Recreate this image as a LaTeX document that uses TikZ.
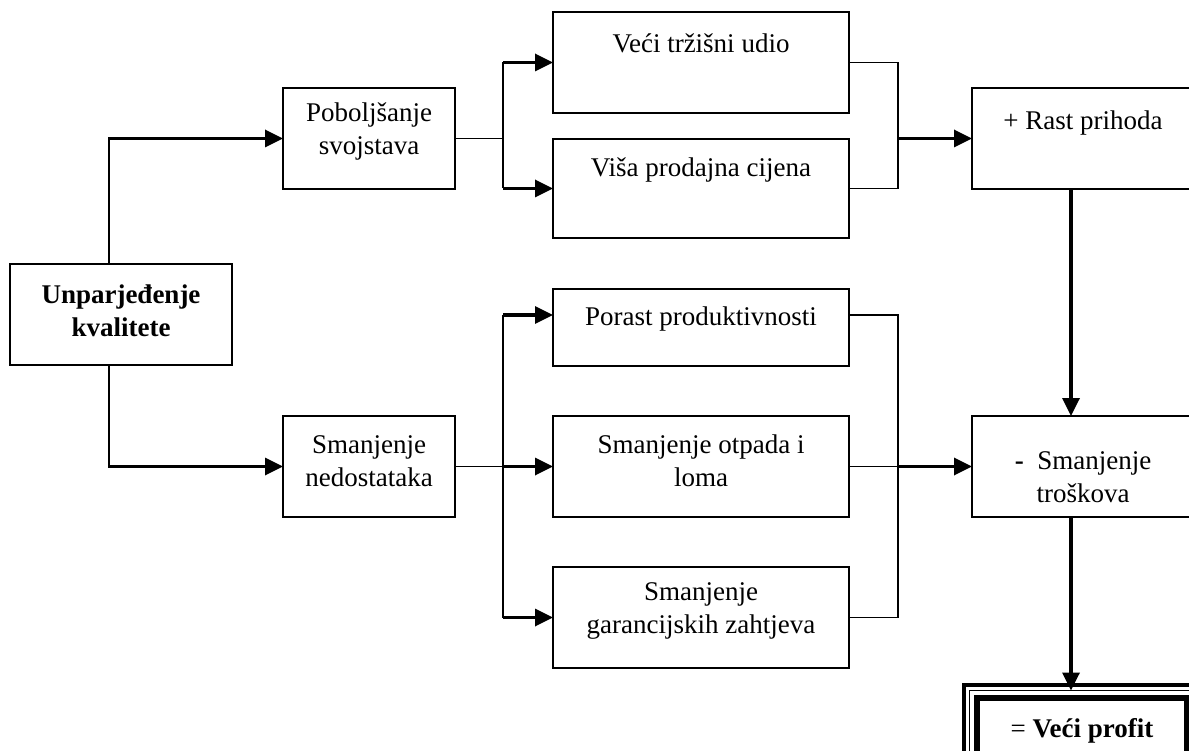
\documentclass[tikz,border=0pt]{standalone}
\usepackage{fontspec}
\setmainfont{Liberation Serif}
\usetikzlibrary{arrows.meta}
\begin{document}
\begin{tikzpicture}[x=1pt,y=-1pt]
\tikzset{
 box/.style={draw,line width=1.9pt,inner sep=0pt,outer sep=0pt},
 txt/.style={font=\fontsize{27}{33}\selectfont, align=center, inner sep=0pt},
 txtb/.style={font=\fontsize{27}{33}\selectfont\bfseries, align=center, inner sep=0pt},
 wire/.style={line width=1.4pt},
 arr/.style={line width=3.4pt, -{Triangle[length=18pt,width=17pt]}}
}
\useasboundingbox (0,0) rectangle (1189,751);
\clip (0,0) rectangle (1189,751);
\fill[white] (0,0) rectangle (1189,751);

% boxes
\node[box,minimum width=222,minimum height=101] (unp) at (121,314.5) {};
\node[box,minimum width=172,minimum height=101] (pob) at (369,138.5) {};
\node[box,minimum width=296,minimum height=101] (veci) at (701,62.5) {};
\node[box,minimum width=296,minimum height=99] (visa) at (701,188.5) {};
\node[box,minimum width=228,minimum height=101] (rast) at (1086,138.5) {};
\node[box,minimum width=172,minimum height=101] (nedo) at (369,466.5) {};
\node[box,minimum width=296,minimum height=77] (por) at (701,327.5) {};
\node[box,minimum width=296,minimum height=101] (otp) at (701,466.5) {};
\node[box,minimum width=296,minimum height=101] (gar) at (701,617.5) {};
\node[box,minimum width=228,minimum height=101] (tros) at (1086,466.5) {};
\node[draw,line width=3.2pt,inner sep=0pt,outer sep=0pt,minimum width=235,minimum height=115] (prof) at (1081.5,742.5) {};
\draw[line width=1.8pt] ([shift={(5.5pt,-5.5pt)}]prof.north west) rectangle ([shift={(-5.5pt,5.5pt)}]prof.south east);
\draw[line width=6pt] ([shift={(12.5pt,-13pt)}]prof.north west) rectangle ([shift={(-12.5pt,12.5pt)}]prof.south east);

% texts
\node[txtb] (tunp) at (121,311) {Unparjeđenje\\kvalitete};
\node[txt] (tpob) at (369,131) {Poboljšanje\\svojstava};
\node[txt] (tveci) at (701,43) {Veći tržišni udio};
\node[txt] (tvisa) at (701,170) {Viša prodajna cijena};
\node[txt] (trast) at (1083,123) {+ Rast prihoda};
\node[txt] (tnedo) at (369,461) {Smanjenje\\nedostataka};
\node[txt] (tpor) at (701,319) {Porast produktivnosti};
\node[txt] (totp) at (701,461) {Smanjenje otpada i\\loma};
\node[txt] (tgar) at (701,611) {Smanjenje\\garancijskih zahtjeva};
\node[txt] (ttros) at (1083,477) {{\bfseries -}\ \ Smanjenje\\troškova};
\node[txt] (tprof) at (1082,731) {= \textbf{Veći profit}};

% left connectors
\coordinate (u1) at ([xshift=-12pt]unp.north);
\coordinate (u2) at ([xshift=-12pt]unp.south);
\coordinate (k1) at (u1 |- pob.west);
\coordinate (k2) at (u2 |- nedo.west);
\draw[wire] (u1) -- ([yshift=0.75pt]k1);
\draw[arr] ([xshift=-0.7pt]k1) -- (pob.west);
\draw[wire] (u2) -- ([yshift=-0.75pt]k2);
\draw[arr] ([xshift=-0.7pt]k2) -- (nedo.west);

% upper fan
\coordinate (j1) at (503,138.5);
\coordinate (j1a) at (j1 |- veci.west);
\coordinate (j1b) at (j1 |- visa.west);
\draw[wire] (pob.east) -- (j1);
\draw[wire] (j1a) -- (j1b);
\draw[arr] (j1a) -- (veci.west);
\draw[arr] (j1b) -- (visa.west);
\coordinate (r1) at (898,138.5);
\coordinate (r1a) at (r1 |- veci.east);
\coordinate (r1b) at (r1 |- visa.east);
\draw[wire] (veci.east) -- (r1a) -- (r1b) -- (visa.east);
\draw[arr] (r1) -- (rast.west);

% lower fan
\coordinate (j2) at (503,466.5);
\coordinate (j2a) at (503,315);
\coordinate (j2c) at (j2 |- gar.west);
\draw[wire] (nedo.east) -- (j2);
\draw[wire] (j2a) -- (j2c);
\draw[arr] (j2a) -- (j2a -| por.west);
\draw[arr] (j2) -- (otp.west);
\draw[arr] (j2c) -- (gar.west);
\coordinate (r2) at (898,466.5);
\coordinate (r2a) at (898,315);
\coordinate (r2c) at (r2 |- gar.east);
\draw[wire] (r2a -| por.east) -- (r2a) -- (r2c) -- (gar.east);
\draw[wire] (otp.east) -- (r2);
\draw[arr] (r2) -- (tros.west);

% vertical flow
\draw[arr] ([xshift=-15pt]rast.south) -- ([xshift=-15pt]tros.north);
\draw[arr] ([xshift=-15pt]tros.south) -- ([xshift=-10.5pt,yshift=-5.5pt]prof.north);
\end{tikzpicture}
\end{document}
